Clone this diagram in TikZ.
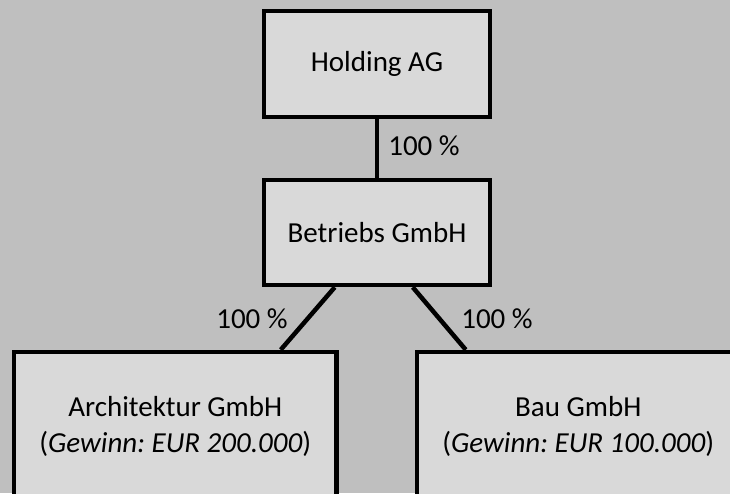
\documentclass[tikz,border=0pt]{standalone}
\usepackage{fontspec}
\setmainfont{Carlito}
\frenchspacing
\usetikzlibrary{backgrounds}
\definecolor{bggray}{HTML}{BFBFBF}
\definecolor{boxgray}{HTML}{D9D9D9}
\pgfdeclarelayer{bottom}
\pgfsetlayers{bottom,background,main}
\tikzset{
  orgbox/.style={draw=black, line width=4.5pt, fill=boxgray, inner sep=0pt, align=center,
    font=\fontsize{29}{36}\selectfont},
  conn/.style={draw=black, line width=4.5pt},
  pct/.style={anchor=base, inner sep=0pt, font=\fontsize{29}{36}\selectfont}
}
\begin{document}
\begin{tikzpicture}[x=1pt,y=-1pt]
\useasboundingbox (0,0) rectangle (730,493);
\clip (0,0) rectangle (730,493);
\begin{pgfonlayer}{bottom}
\fill[bggray] (0,0) rectangle (730,493);
\end{pgfonlayer}
\node[orgbox, minimum width=226pt, minimum height=106pt] (holding) at (377,64) {Holding AG};
\node[orgbox, minimum width=226pt, minimum height=105pt] (betriebs) at (377,232.5) {Betriebs GmbH};
\node[orgbox, minimum width=322.5pt, minimum height=148pt] (arch) at (175.25,426) {Architektur GmbH\\(\textit{Gewinn: EUR 200.000})};
\node[orgbox, minimum width=322.5pt, minimum height=148pt] (bau) at (578.25,426) {Bau GmbH\\(\textit{Gewinn: EUR 100.000})};
\begin{pgfonlayer}{background}
\draw[conn] (holding.south) -- (betriebs.north);
\draw[conn] ([xshift=73pt]betriebs.south west) -- ([xshift=269pt]arch.north west);
\draw[conn] ([xshift=151pt]betriebs.south west) -- ([xshift=51pt]bau.north west);
\end{pgfonlayer}
\node[pct] (p1) at (424,155) {100 \%};
\node[pct] (p2) at (252,328) {100 \%};
\node[pct] (p3) at (497,328) {100 \%};
\end{tikzpicture}
\end{document}
